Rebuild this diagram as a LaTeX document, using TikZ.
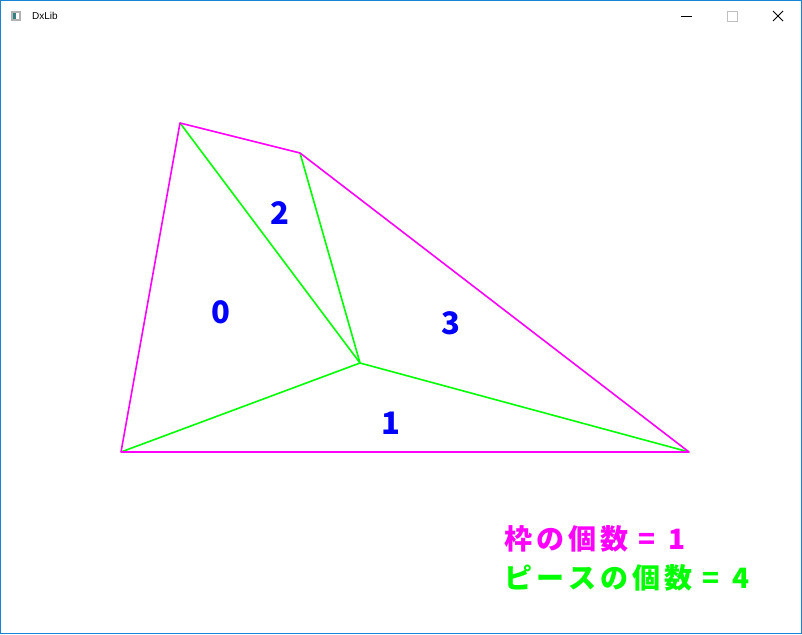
\documentclass[tikz,border=0pt]{standalone}
\usepackage{fontspec}
\setmainfont{Liberation Sans}
\newfontfamily\jpfont{Noto Sans CJK JP}
\usepackage{tikz}
\usetikzlibrary{positioning}
\definecolor{winblue}{HTML}{1883D7}
\definecolor{frame}{HTML}{FF00FF}
\definecolor{piece}{HTML}{00FF00}
\definecolor{num}{HTML}{0000FF}
% fixed pitch cells, like the fixed width screen font
\newcommand{\zen}[1]{\makebox[32pt][c]{#1}}
\newcommand{\eqcell}{\makebox[34pt][c]{=}}
\newcommand{\numcell}[1]{\makebox[26pt][c]{#1}}

\begin{document}
\begin{tikzpicture}[
  x=1pt, y=-1pt,
  frameline/.style={draw=frame, line width=1.6pt, line join=round},
  pieceline/.style={draw=piece, line width=1.6pt, line join=round},
  label/.style={text=num, font=\jpfont\bfseries\fontsize{31}{31}\selectfont, inner sep=0pt},
  count/.style={anchor=base west, font=\jpfont\bfseries\fontsize{28}{28}\selectfont, inner sep=0pt},
  titlebtn/.style={draw=black, line width=0.8pt}
]
\useasboundingbox (0,0) rectangle (802,634);
% window
\fill[white] (0,0) rectangle (802,634);
\draw[winblue, line width=1.2pt] (0.6,0.6) rectangle (801.4,633.4);
\fill[gray!60] (11,11) rectangle (21,21);
\fill[white] (13,13) rectangle (19,19);
\fill[teal!60!gray] (13,13) rectangle (16,19);
\node[anchor=west, font=\fontsize{10}{10}\selectfont, inner sep=0pt] (title) at (32,16) {DxLib};
\coordinate (minL) at (681,16); \coordinate (minR) at (692,16);
\draw[titlebtn] (minL) -- (minR);
\draw[gray!50, line width=0.8pt] (727,11) rectangle (737,21);
\coordinate (xa) at (773,11); \coordinate (xb) at (783,21);
\coordinate (xc) at (773,21); \coordinate (xd) at (783,11);
\draw[titlebtn] (xa) -- (xb) (xc) -- (xd);

% vertices
\coordinate (top) at (180,123);
\coordinate (ridge) at (300,153);
\coordinate (right) at (689,452);
\coordinate (left) at (121,452);
\coordinate (mid) at (360,363);

% pieces
\draw[pieceline] (top) -- (mid);
\draw[pieceline] (ridge) -- (mid);
\draw[pieceline] (left) -- (mid);
\draw[pieceline] (mid) -- (right);
% frame
\draw[frameline] (left) -- (top) -- (ridge) -- (right) -- cycle;

\node[label] (p0) at (221,312) {0};
\node[label] (p1) at (391,423) {1};
\node[label] (p2) at (280,213) {2};
\node[label] (p3) at (451,323) {3};

\node[count, text=frame] (nframe) at (502,549) {\zen{枠}\zen{の}\zen{個}\zen{数}\eqcell\numcell{1}};
\node[count, text=piece] (npiece) at (502,588) {\zen{ピ}\zen{ー}\zen{ス}\zen{の}\zen{個}\zen{数}\eqcell\numcell{4}};
\end{tikzpicture}
\end{document}
